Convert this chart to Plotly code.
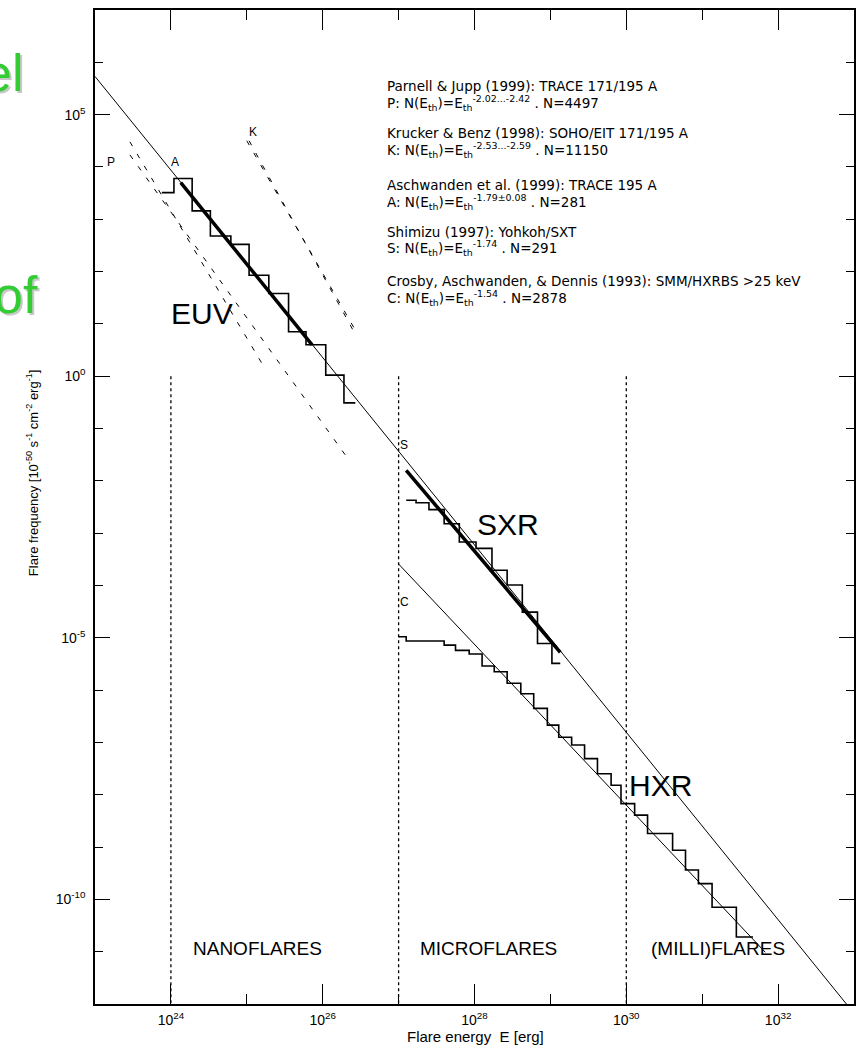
import numpy as np
import plotly.graph_objects as go

# ---------------- data (log10 values) ----------------
# overall power-law fit through A and S (thin solid)
fitA_logE = [23.0, 32.9]
fitA_logN = [5.73, -12.0]
# HXR (C) power-law fit (thin solid)
fitC_logE = [27.0, 31.83]
fitC_logN = [-3.59, -11.01]
# thick fit segments
thickA_logE = [24.13, 25.86]
thickA_logN = [3.70, 0.60]
thickS_logE = [27.10, 29.13]
thickS_logN = [-1.80, -5.28]
# Parnell & Jupp (dashed, two slopes)
P1_logE = [23.46, 26.30]
P1_logN = [4.23, -1.51]
P2_logE = [23.46, 25.23]
P2_logN = [4.48, 0.17]
# Krucker & Benz (dashed, two slopes)
K1_logE = [25.00, 26.43]
K1_logN = [4.50, 0.88]
K2_logE = [25.03, 26.43]
K2_logN = [4.50, 0.80]

# EUV histogram (Aschwanden et al. 1999)
A_edges = [23.88, 24.04, 24.28, 24.52, 24.79, 25.03, 25.29, 25.55, 25.78, 26.04, 26.28, 26.43]
A_vals = [3.51, 3.78, 3.16, 2.68, 2.52, 1.93, 1.58, 0.85, 0.60, 0.02, -0.51]
# SXR histogram (Shimizu 1997)
S_edges = [27.10, 27.23, 27.40, 27.60, 27.80, 28.02, 28.23, 28.43, 28.63, 28.83, 29.02, 29.13]
S_vals = [-2.37, -2.42, -2.55, -2.82, -3.17, -3.29, -3.71, -3.99, -4.51, -5.11, -5.49]
# HXR histogram (Crosby et al. 1993)
C_edges = [27.00, 27.10, 27.60, 27.75, 27.93, 28.10, 28.26, 28.43, 28.61, 28.78, 28.96, 29.11,
           29.28, 29.45, 29.62, 29.80, 29.93, 30.11, 30.28, 30.61, 30.78, 30.95, 31.13, 31.45, 31.67]
C_vals = [-4.98, -5.06, -5.14, -5.24, -5.31, -5.54, -5.65, -5.87, -6.07, -6.35, -6.67, -6.90,
          -7.05, -7.31, -7.60, -7.82, -8.17, -8.39, -8.74, -9.06, -9.44, -9.70, -10.15, -10.72]

# region boundaries (dotted verticals)
bound_logE = [24, 27, 30]
bound_logN = [0, -12]

x_tickvals = [24, 26, 28, 30, 32]
x_minor = [25, 27, 29, 31]
y_tickvals = [5, 0, -5, -10]
y_minor = [6, 4, 3, 2, 1, -1, -2, -3, -4, -6, -7, -8, -9, -11]

legend_lines = [
    "Parnell & Jupp (1999): TRACE 171/195 A",
    "P: N(E<sub>th</sub>)=E<sub>th</sub><sup>-2.02...-2.42</sup> . N=4497",
    "Krucker & Benz (1998): SOHO/EIT 171/195 A",
    "K: N(E<sub>th</sub>)=E<sub>th</sub><sup>-2.53...-2.59</sup> . N=11150",
    "Aschwanden et al. (1999): TRACE 195 A",
    "A: N(E<sub>th</sub>)=E<sub>th</sub><sup>-1.79±0.08</sup> . N=281",
    "Shimizu (1997): Yohkoh/SXT",
    "S: N(E<sub>th</sub>)=E<sub>th</sub><sup>-1.74</sup> . N=291",
    "Crosby, Aschwanden, & Dennis (1993): SMM/HXRBS >25 keV",
    "C: N(E<sub>th</sub>)=E<sub>th</sub><sup>-1.54</sup> . N=2878",
]
legend_y = [5.55, 5.22, 4.65, 4.32, 3.65, 3.33, 2.76, 2.45, 1.82, 1.49]

# ---------------------------------------------------------------------------
fig = go.Figure()


def p(a):
    return 10 ** np.asarray(a, dtype=float)


def add_line(lx, ly, width, dash=None, shape="linear"):
    fig.add_trace(go.Scatter(x=p(lx), y=p(ly), mode="lines",
                             line=dict(color="black", width=width, dash=dash, shape=shape),
                             showlegend=False, hoverinfo="skip"))


def add_hist(edges, vals, width=1.6):
    add_line(edges, list(vals) + [vals[-1]], width, shape="hv")


for b in bound_logE:
    add_line([b, b], bound_logN, 1.3, dash="3px,3px")

add_line(fitA_logE, fitA_logN, 1.0)
add_line(fitC_logE, fitC_logN, 1.0)
for lx, ly in [(P1_logE, P1_logN), (P2_logE, P2_logN), (K1_logE, K1_logN), (K2_logE, K2_logN)]:
    add_line(lx, ly, 1.0, dash="5px,9px")
add_hist(A_edges, A_vals)
add_hist(S_edges, S_vals)
add_hist(C_edges, C_vals)
add_line(thickA_logE, thickA_logN, 3.5)
add_line(thickS_logE, thickS_logN, 3.5)

ann = []
FONT = "Liberation Sans"
for t, yy in zip(legend_lines, legend_y):
    ann.append(dict(x=26.82, y=yy, xref="x", yref="y", text=t, showarrow=False,
                    xanchor="left", yanchor="middle",
                    font=dict(family="DejaVu Sans", size=13.5, color="black")))

for t, xx, yy, sz in [("EUV", 24.406, 1.19, 30), ("SXR", 28.44, -2.83, 30), ("HXR", 30.45, -7.82, 30),
                      ("P", 23.21, 4.09, 12), ("A", 24.06, 4.09, 12), ("K", 25.08, 4.67, 12),
                      ("S", 27.07, -1.32, 12), ("C", 27.08, -4.32, 12),
                      ("NANOFLARES", 25.14, -10.94, 19), ("MICROFLARES", 28.19, -10.94, 19),
                      ("(MILLI)FLARES", 31.21, -10.94, 19)]:
    ann.append(dict(x=xx, y=yy, xref="x", yref="y", text=t, showarrow=False,
                    xanchor="center", yanchor="middle",
                    font=dict(family=FONT, size=sz, color="black")))

# axis titles
ann.append(dict(x=-(95 - 32) / 761, y=1 - (473 - 10) / 994, xref="paper", yref="paper",
                text="Flare frequency [10<sup>-50</sup> s<sup>-1</sup> cm<sup>-2</sup> erg<sup>-1</sup>]",
                textangle=-90, showarrow=False, xanchor="center", yanchor="middle",
                font=dict(family=FONT, size=13, color="black")))
ann.append(dict(x=(477 - 95) / 761, y=1 - (1036 - 10) / 994, xref="paper", yref="paper",
                text="Flare energy  E [erg]", showarrow=False, xanchor="center", yanchor="middle",
                font=dict(family=FONT, size=15, color="black")))

# green slide text cut off at the left edge
for t, xr, yb in [("el", 25, 93), ("of", 40, 315)]:
    for dx, dy, col in [(2, 2, "#c8c8c8"), (0, 0, "#33cc33")]:
        ann.append(dict(x=(xr + dx - 95) / 761, y=1 - (yb + dy + 11 - 10) / 994,
                        xref="paper", yref="paper", text=t, showarrow=False,
                        xanchor="right", yanchor="bottom",
                        font=dict(family=FONT, size=52, color=col)))

fig.update_layout(
    width=857, height=1045,
    margin=dict(l=95, r=1, t=10, b=41),
    paper_bgcolor="white", plot_bgcolor="white",
    showlegend=False,
    annotations=ann,
    xaxis=dict(type="log", range=[23, 33], showgrid=False, zeroline=False,
               showline=True, linecolor="black", linewidth=1.5, mirror="ticks",
               ticks="inside", ticklen=20, tickwidth=1.3, tickcolor="black",
               tickvals=list(p(x_tickvals)),
               ticktext=["10<sup>%d</sup>" % v for v in x_tickvals],
               tickfont=dict(family=FONT, size=14, color="black"),
               ticklabelstandoff=2,
               minor=dict(tickvals=list(p(x_minor)), ticks="inside", ticklen=10,
                          tickwidth=1.3, tickcolor="black", showgrid=False)),
    yaxis=dict(type="log", range=[-12, 7], showgrid=False, zeroline=False,
               showline=True, linecolor="black", linewidth=1.5, mirror="ticks",
               ticks="inside", ticklen=15, tickwidth=1.3, tickcolor="black",
               tickvals=list(p(y_tickvals)),
               ticktext=["10<sup>%d</sup>" % v for v in y_tickvals],
               tickfont=dict(family=FONT, size=14, color="black"),
               ticklabelstandoff=5,
               minor=dict(tickvals=list(p(y_minor)), ticks="inside", ticklen=8,
                          tickwidth=1.3, tickcolor="black", showgrid=False)),
)

fig.write_html("out.html")
